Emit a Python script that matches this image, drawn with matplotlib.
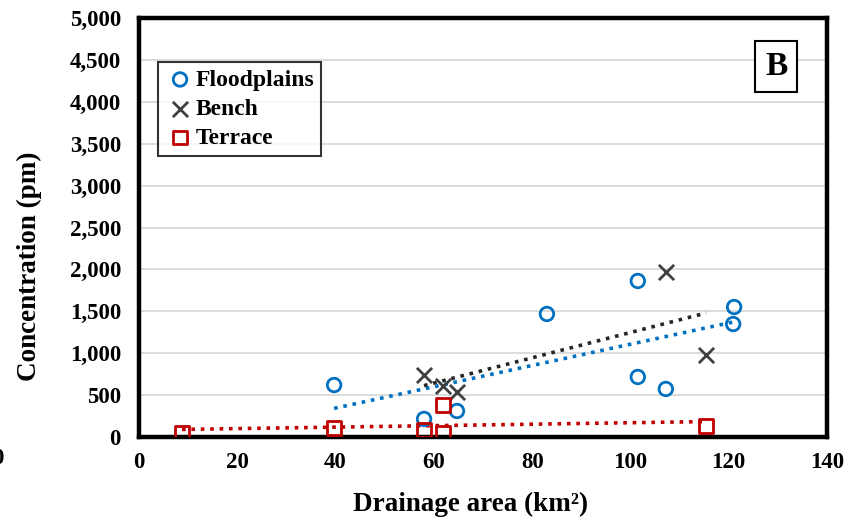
import numpy as np
import matplotlib
matplotlib.use('Agg')
import matplotlib.pyplot as plt
from matplotlib.ticker import FuncFormatter

# Data
flood_x = [39.7, 58.0, 64.7, 83.0, 101.5, 101.5, 107.2, 121.1, 120.9]
flood_y = [620, 215, 310, 1468, 1862, 716, 573, 1551, 1348]

bench_x = [58.0, 61.9, 64.7, 107.2, 115.4]
bench_y = [740, 609, 537, 1969, 979]

terrace_x = [8.75, 39.7, 58.0, 61.9, 61.9, 115.4]
terrace_y = [45, 107, 84, 382, 48, 131]

x_ticks = [0, 20, 40, 60, 80, 100, 120, 140]
y_ticks = [0, 500, 1000, 1500, 2000, 2500, 3000, 3500, 4000, 4500, 5000]

plt.rcParams['font.family'] = ['Liberation Serif', 'DejaVu Serif']
plt.rcParams['font.weight'] = 'bold'

fig = plt.figure(figsize=(8.54, 5.23), dpi=100)
ax = fig.add_axes([0.1628, 0.1645, 0.8056, 0.801])

blue = '#0070C0'
gray = '#404040'
red = '#C00000'

ax.scatter(flood_x, flood_y, marker='o', s=95, facecolors='none',
           edgecolors=blue, linewidths=2, label='Floodplains', zorder=3)
ax.scatter(bench_x, bench_y, marker='x', s=120, color=gray,
           linewidths=2, label='Bench', zorder=3)
ax.scatter(terrace_x, terrace_y, marker='s', s=95, facecolors='none',
           edgecolors=red, linewidths=2, label='Terrace', zorder=3)

# linear trend lines (least squares, like Excel)
for xs, ys, c in [(flood_x, flood_y, blue), (bench_x, bench_y, '#262626'),
                  (terrace_x, terrace_y, red)]:
    m, b = np.polyfit(xs, ys, 1)
    xx = np.array([min(xs), max(xs)])
    ax.plot(xx, m * xx + b, linestyle=(0, (1, 1.6)), color=c, linewidth=2.6,
            zorder=2)

ax.set_xlim(0, 140)
ax.set_ylim(0, 5000)
ax.set_xticks(x_ticks)
ax.set_yticks(y_ticks)
ax.yaxis.set_major_formatter(FuncFormatter(lambda v, p: f'{v:,.0f}'))
ax.tick_params(length=0, labelsize=16.5)
ax.tick_params(axis='x', pad=11)
ax.tick_params(axis='y', pad=13)
for lab in ax.get_xticklabels() + ax.get_yticklabels():
    lab.set_fontweight('bold')

ax.grid(axis='y', color='#d9d9d9', linewidth=1.3)
ax.set_axisbelow(True)
for sp in ax.spines.values():
    sp.set_linewidth(3.2)
    sp.set_color('black')

ax.set_xlabel('Drainage area (km²)', fontsize=19.5, fontweight='bold', va='center')
ax.set_ylabel('Concentration (pm)', fontsize=19.5, fontweight='bold', va='center')
ax.xaxis.set_label_coords(0.4826, -0.16)
ax.yaxis.set_label_coords(-0.160, 0.408)

leg = ax.legend(loc='upper left', bbox_to_anchor=(0.027, 0.895), fontsize=17,
                frameon=True, fancybox=False, handletextpad=0.0,
                handlelength=1.3, borderpad=0.3, labelspacing=0.32,
                borderaxespad=0)
leg.get_frame().set_edgecolor('black')
leg.get_frame().set_linewidth(1.5)
for t in leg.get_texts():
    t.set_fontweight('bold')

ax.text(0.926, 0.885, 'B', transform=ax.transAxes, fontsize=24,
        fontweight='bold', ha='center', va='center',
        bbox=dict(boxstyle='square,pad=0.3', facecolor='white',
                  edgecolor='black', linewidth=1.5))

# clipped label from the neighbouring panel
fig.text(-0.009, 0.123, '0', fontsize=16.5, fontweight='bold', ha='left', va='center')

fig.savefig('out.png', dpi=100)
